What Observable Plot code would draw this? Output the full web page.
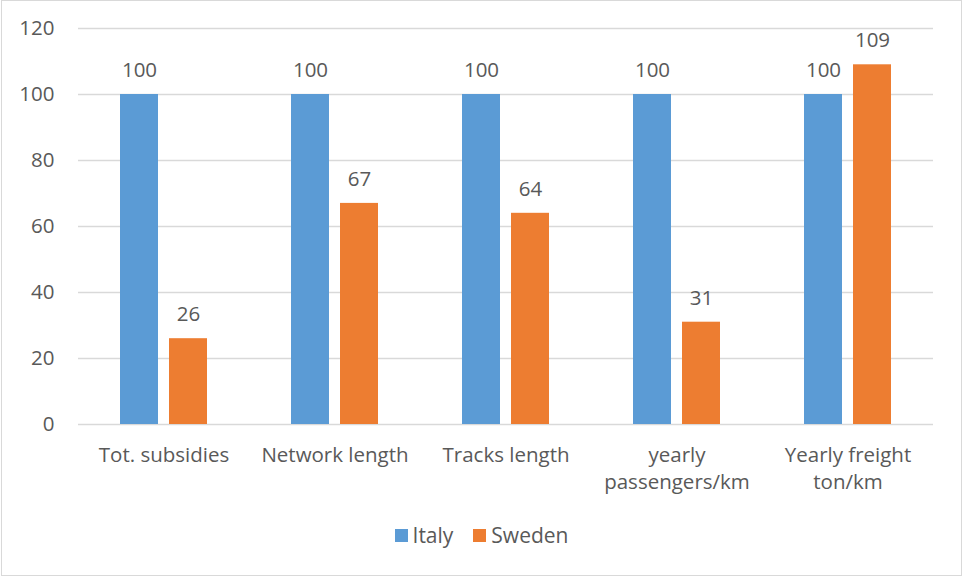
<!DOCTYPE html>
<html>
<head>
<meta charset="utf-8">
<script src="https://cdn.jsdelivr.net/npm/d3@7"></script>
<script src="https://cdn.jsdelivr.net/npm/@observablehq/plot@0.6"></script>
<style>
  html, body { margin: 0; padding: 0; background: #fff; }
  body { width: 963px; height: 578px; position: relative; overflow: hidden; font-family: "Open Sans", sans-serif; }
  #frame { position: absolute; left: 1px; top: 0px; width: 959px; height: 574px; border: 1px solid #d9d9d9; box-sizing: content-box; }
  #chart { position: absolute; left: 0; top: 0; }
  #legend { position: absolute; left: 0; top: 521px; width: 963px; display: flex; justify-content: center; gap: 20px; font-size: 21px; color: #595959; }
  #legend .item { display: flex; align-items: center; gap: 5px; }
  #legend .sw { width: 13px; height: 13px; display: inline-block; }
</style>
</head>
<body>
<div id="frame"></div>
<div id="chart"></div>
<div id="legend"></div>
<script>
// Rail indicators, Italy = 100
const categories = ["Tot. subsidies", "Network length", "Tracks length", "yearly\npassengers/km", "Yearly freight\nton/km"];
const countries = ["Italy", "Sweden"];
const italy = [100, 100, 100, 100, 100];
const sweden = [26, 67, 64, 31, 109];
const yTicks = [0, 20, 40, 60, 80, 100, 120];
const colors = ["#5B9BD5", "#ED7D31"];

const rows = [];
categories.forEach((c, i) => {
  rows.push({category: c, country: "Italy", value: italy[i]});
  rows.push({category: c, country: "Sweden", value: sweden[i]});
});

const textColor = "#595959";
const fs = 20.5;

const chart = Plot.plot({
  width: 963,
  height: 510,
  marginTop: 28,
  marginBottom: 86,
  marginLeft: 78,
  marginRight: 30,
  style: {fontFamily: "Open Sans", fontSize: fs + "px", color: textColor, background: "transparent"},
  fx: {domain: categories, padding: 0, label: null},
  x: {domain: countries, paddingInner: 0.2245, paddingOuter: 0.857, axis: null},
  y: {domain: [0, 120], ticks: yTicks, label: null},
  color: {domain: countries, range: colors},
  marks: [
    Plot.ruleY(yTicks, {stroke: "#d9d9d9", strokeWidth: 1.3}),
    Plot.barY(rows, {fx: "category", x: "country", y: "value", fill: "country"}),
    Plot.text(rows, {fx: "category", x: "country", y: "value", text: d => String(d.value), dy: -24, fill: textColor, fontSize: fs}),
    Plot.axisY({ticks: yTicks, tickSize: 0, tickPadding: 24, fontSize: fs, label: null, fill: textColor}),
    Plot.axisFx({anchor: "bottom", tickSize: 0, tickPadding: 18, fontSize: fs, lineHeight: 1.32, label: null, fill: textColor})
  ]
});
document.getElementById("chart").appendChild(chart);

const legend = document.getElementById("legend");
countries.forEach((c, i) => {
  const item = document.createElement("div");
  item.className = "item";
  const sw = document.createElement("span");
  sw.className = "sw";
  sw.style.background = colors[i];
  const label = document.createElement("span");
  label.textContent = c;
  item.appendChild(sw);
  item.appendChild(label);
  legend.appendChild(item);
});
</script>
</body>
</html>
